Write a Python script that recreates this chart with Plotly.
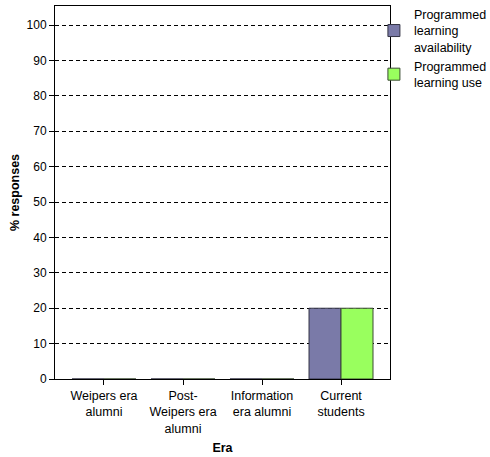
import plotly.graph_objects as go

categories = ["Weipers era<br>alumni", "Post-<br>Weipers era<br>alumni", "Information<br>era alumni", "Current<br>students"]
availability = [0, 0, 0, 20]
use = [0, 0, 0, 20]
series_names = ["Programmed<br>learning<br>availability", "Programmed<br>learning use"]
y_ticks = [0, 10, 20, 30, 40, 50, 60, 70, 80, 90, 100]

FONT = "Liberation Sans, Arial, sans-serif"

fig = go.Figure()
fig.add_trace(go.Bar(x=categories, y=availability, name=series_names[0],
                     marker=dict(color="#7a7aa8", line=dict(color="#333344", width=1))))
fig.add_trace(go.Bar(x=categories, y=use, name=series_names[1],
                     marker=dict(color="#99ff5e", line=dict(color="#3a4a33", width=1))))

fig.update_layout(
    width=490, height=457,
    margin=dict(l=55, r=100, t=6, b=78, autoexpand=False),
    paper_bgcolor="white", plot_bgcolor="white",
    font=dict(family=FONT, size=12, color="black"),
    barmode="group", bargap=0.19, bargroupgap=0,
    showlegend=True,
    legend=dict(x=0.952, xanchor="left", y=1.017, yanchor="top",
                font=dict(size=12.5), itemwidth=30, tracegroupgap=1,
                bgcolor="rgba(0,0,0,0)", borderwidth=0, valign="middle",
                itemclick=False),
    xaxis=dict(
        range=[-0.62, 3.62], showline=True, linecolor="black", linewidth=1, mirror=True,
        ticks="outside", ticklen=5, tickcolor="black", showgrid=False,
        title=dict(text="<b>Era</b>", font=dict(size=12.5), standoff=8),
        tickfont=dict(size=12.5),
    ),
    yaxis=dict(
        range=[0, 105.4], tickvals=y_ticks, showline=True, linecolor="black", linewidth=1,
        mirror=True, ticks="outside", ticklen=5, tickcolor="black",
        showgrid=True, gridcolor="black", gridwidth=1, griddash="4px,3px",
        zeroline=False,
        title=dict(text="<b>% responses</b>", font=dict(size=12.5), standoff=4),
        tickfont=dict(size=12),
    ),
)

fig.write_html("out.html", config={"displayModeBar": False},
               post_script="document.body.style.margin='0';")
